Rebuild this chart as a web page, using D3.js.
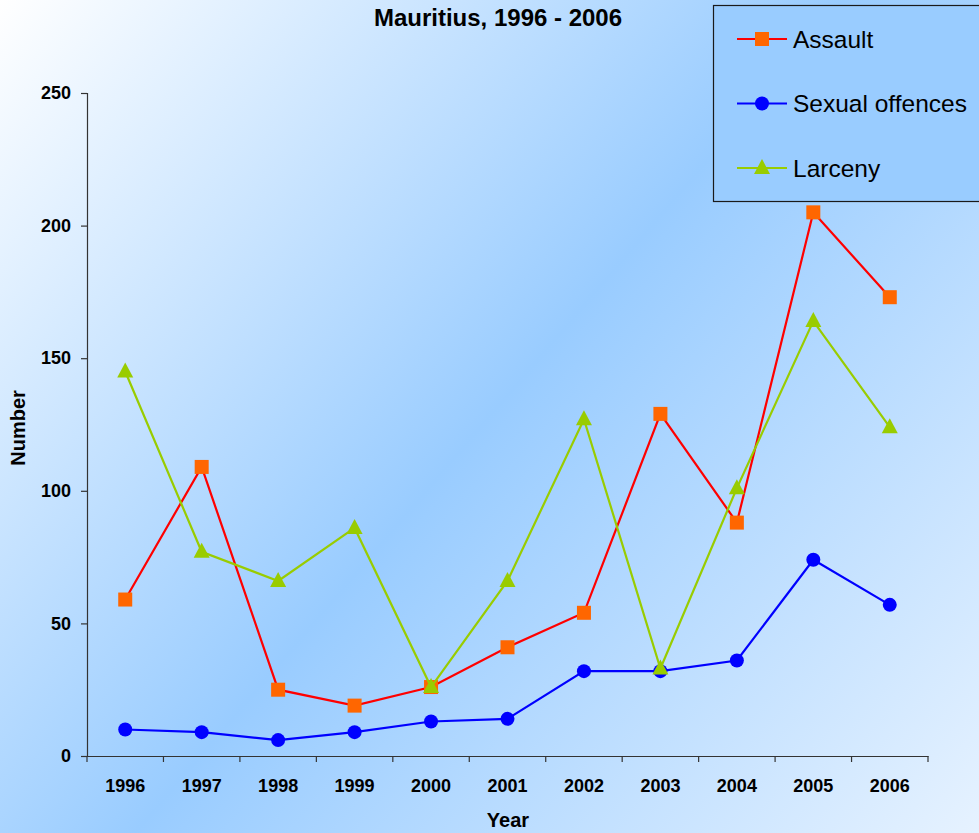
<!DOCTYPE html>
<html>
<head>
<meta charset="utf-8">
<script src="https://cdn.jsdelivr.net/npm/d3@7"></script>
<style>
  body { margin: 0; padding: 0; }
  svg { display: block; font-family: "Liberation Sans", Arial, sans-serif; }
</style>
</head>
<body>
<div id="chart"></div>
<script>
// Data
const years = ["1996", "1997", "1998", "1999", "2000", "2001", "2002", "2003", "2004", "2005", "2006"];
const assault = [59, 109, 25, 19, 26, 41, 54, 129, 88, 205, 173];
const sexualOffences = [10, 9, 6, 9, 13, 14, 32, 32, 36, 74, 57];
const larceny = [145, 77, 66, 86, 26, 66, 127, 33, 101, 164, 124];
const yTicks = [0, 50, 100, 150, 200, 250];

const series = [
  { name: "Assault", values: assault, line: "#ff0000", fill: "#ff6600", shape: "square" },
  { name: "Sexual offences", values: sexualOffences, line: "#0000ff", fill: "#0000ff", shape: "circle" },
  { name: "Larceny", values: larceny, line: "#99cc00", fill: "#99cc00", shape: "triangle" }
];

const width = 979, height = 833;
const margin = { top: 93, right: 51, bottom: 77, left: 87 };

const svg = d3.select("#chart")
  .append("svg")
  .attr("width", width)
  .attr("height", height);

// background gradient
const defs = svg.append("defs");
const grad = defs.append("linearGradient")
  .attr("id", "bg")
  .attr("gradientUnits", "userSpaceOnUse")
  .attr("x1", 0).attr("y1", 0)
  .attr("x2", width).attr("y2", height);
grad.append("stop").attr("offset", "0%").attr("stop-color", "#ffffff");
grad.append("stop").attr("offset", "50%").attr("stop-color", "#99ccff");
grad.append("stop").attr("offset", "100%").attr("stop-color", "#e6f2ff");

svg.append("rect")
  .attr("width", width).attr("height", height)
  .attr("fill", "url(#bg)");

const x = d3.scaleBand()
  .domain(years)
  .range([margin.left, width - margin.right]);

const y = d3.scaleLinear()
  .domain([0, 250])
  .range([height - margin.bottom, margin.top]);

// axes
const xAxis = svg.append("g")
  .attr("transform", `translate(0,${height - margin.bottom})`)
  .call(d3.axisBottom(x).tickSize(0).tickPadding(23));
xAxis.select(".domain").attr("stroke", "#333").attr("stroke-width", 1.2);
xAxis.selectAll("text")
  .attr("font-size", 18).attr("font-weight", "bold").attr("fill", "#000")
  .attr("font-family", "Liberation Sans, Arial, sans-serif");

// x ticks at band edges
const edges = years.map(d => x(d)).concat([x(years[years.length - 1]) + x.bandwidth()]);
svg.append("g")
  .selectAll("line")
  .data(edges)
  .join("line")
  .attr("x1", d => d).attr("x2", d => d)
  .attr("y1", height - margin.bottom)
  .attr("y2", height - margin.bottom + 6)
  .attr("stroke", "#333").attr("stroke-width", 1.2);

const yAxis = svg.append("g")
  .attr("transform", `translate(${margin.left},0)`)
  .call(d3.axisLeft(y).tickValues(yTicks).tickSize(6).tickPadding(10));
yAxis.select(".domain").attr("stroke", "#333").attr("stroke-width", 1.2);
yAxis.selectAll(".tick line").attr("stroke", "#333").attr("stroke-width", 1.2);
yAxis.selectAll("text")
  .attr("font-size", 18).attr("font-weight", "bold").attr("fill", "#000")
  .attr("font-family", "Liberation Sans, Arial, sans-serif");

// title and axis labels
svg.append("text")
  .attr("x", 498).attr("y", 26)
  .attr("text-anchor", "middle")
  .attr("font-size", 24).attr("font-weight", "bold")
  .text("Mauritius, 1996 - 2006");

svg.append("text")
  .attr("x", 508).attr("y", 827)
  .attr("text-anchor", "middle")
  .attr("font-size", 20).attr("font-weight", "bold")
  .text("Year");

svg.append("text")
  .attr("transform", `translate(25,${428}) rotate(-90)`)
  .attr("text-anchor", "middle")
  .attr("font-size", 20).attr("font-weight", "bold")
  .text("Number");

// marker drawing
function drawMarker(sel, s) {
  if (s.shape === "square") {
    sel.append("rect")
      .attr("x", -7).attr("y", -7).attr("width", 14).attr("height", 14)
      .attr("fill", s.fill);
  } else if (s.shape === "circle") {
    sel.append("circle").attr("r", 7).attr("fill", s.fill);
  } else {
    sel.append("path")
      .attr("d", "M0,-9L8,6L-8,6Z")
      .attr("fill", s.fill);
  }
}

const line = d3.line()
  .x((d, i) => x(years[i]) + x.bandwidth() / 2)
  .y(d => y(d));

series.forEach(s => {
  const g = svg.append("g");
  g.append("path")
    .datum(s.values)
    .attr("d", line)
    .attr("fill", "none")
    .attr("stroke", s.line)
    .attr("stroke-width", 2.2);
  g.selectAll("g.m")
    .data(s.values)
    .join("g")
    .attr("class", "m")
    .attr("transform", (d, i) => `translate(${x(years[i]) + x.bandwidth() / 2},${y(d)})`)
    .each(function () { drawMarker(d3.select(this), s); });
});

// legend
const legend = svg.append("g");
legend.append("rect")
  .attr("x", 713.5).attr("y", 5.5)
  .attr("width", 275).attr("height", 196)
  .attr("fill", "#99ccff")
  .attr("stroke", "#1a1a1a").attr("stroke-width", 1.2);

series.forEach((s, i) => {
  const ly = 39 + i * 64.5;
  const item = legend.append("g").attr("transform", `translate(762,${ly})`);
  item.append("line")
    .attr("x1", -25).attr("x2", 25)
    .attr("stroke", s.line).attr("stroke-width", 2.2);
  drawMarker(item, s);
  legend.append("text")
    .attr("x", 793).attr("y", ly + 8.5)
    .attr("font-size", 24.5)
    .attr("fill", "#000")
    .text(s.name);
});
</script>
</body>
</html>
